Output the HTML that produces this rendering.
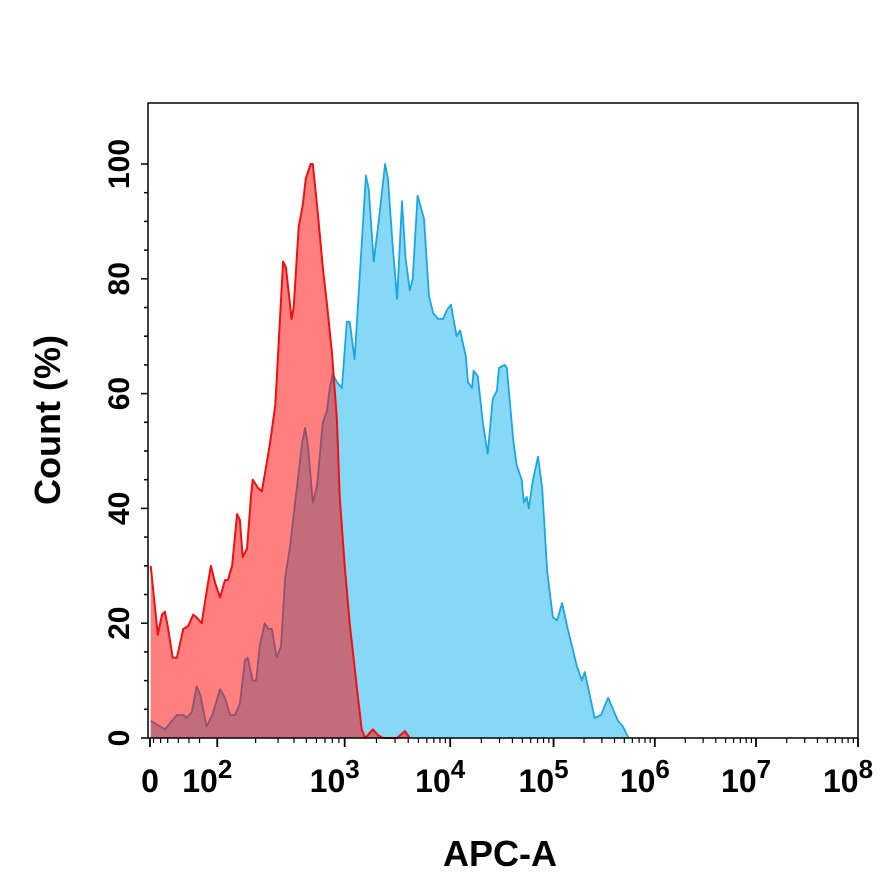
<!DOCTYPE html>
<html><head><meta charset="utf-8"><style>
html,body{margin:0;padding:0;background:#fff;}
svg{display:block;font-family:"Liberation Sans",Arial,sans-serif;font-weight:bold;}
</style></head><body>
<svg id="chart" width="881" height="886" viewBox="0 0 881 886" xmlns="http://www.w3.org/2000/svg">
<g id="series"></g>
<rect x="148" y="103" width="710" height="635" fill="none" stroke="#000" stroke-width="1.5"/>
<g id="axes"></g>
<text transform="translate(60,420) rotate(-90)" text-anchor="middle" font-size="36">Count  (%)</text>
<text x="500" y="866" text-anchor="middle" font-size="36">APC-A</text>
</svg>
<script>
const redCh=[1,11,17,21,25,32,38,47,54,61,66,73,80,86,92,99,106,110,116,123,127,131,137,143,145,153,158,165,169,177,184,188,192,200,203,210,216,220,227,230,237,244,250,257,264,268,275,282,292,299,304,311,315,322,329,339,349,360,367];
const redCount=[30,18,21.5,22,19.5,14,14,19,19.5,21.5,21,20,25.5,30,27,24.5,27.5,27.5,30,39,38,31.5,33,42.5,45,43.5,43,48,51,58,74,83,82,73,75,89,93,97.5,100,100,91.5,82,75.5,67,55.5,42,30,20,9,1.5,0,1,1.5,0.5,0,0,0,1.2,0];
const blueCh=[1,21,31,38,47,52,59,66,71,80,88,99,106,113,120,127,134,138,145,150,155,162,167,172,179,185,191,198,205,215,219,223,230,236,244,250,254,258,264,271,278,282,289,297,305,309,316,323,332,336,343,349,356,361,367,371,378,387,394,400,407,414,419,425,433,438,446,449,455,457,463,470,477,484,490,493,501,504,513,518,525,528,532,535,541,548,554,561,569,575,582,590,596,603,610,614,621,628,637,647,654,661,668,676];
const blueCount=[3,1.5,3,4,4,3.5,4.5,9,7.5,2,4,8.5,7,4,4,6,13.5,14,10,10,16,20,19,19,14,16,28,33.5,41,51.5,54,51,41,44,55,57,61,63.5,62,61,72.5,72.5,66,82,98,95.5,83,90,100,97.5,85.5,76.5,93.5,83.5,78,80,94.5,90.5,77,74,73,73,74.5,75.5,70,71,66.5,62,61,64,63,55,49.5,59,60.5,64.5,65,64.5,52,47.5,45,41,42,40,45,49,43.5,29,21,20.5,23.5,19,16,12.5,10,11.5,7.5,3.5,4,7,5,3,2,0];
const xTickCh=[0,95,275,424,570,713,856,1000];
const xTickExp=[null,2,3,4,5,6,7,8];
const yTicks=[0,20,40,60,80,100];

const NS="http://www.w3.org/2000/svg";
function xs(ch){return 150+ch*0.708;}
function ys(v){return 738-v*5.74;}
function mk(tag,attrs,parent){const e=document.createElementNS(NS,tag);for(const k in attrs)e.setAttribute(k,attrs[k]);parent.appendChild(e);return e;}
const series=document.getElementById('series');
function area(chs,vals){
  let d='M'+xs(chs[0])+','+ys(0);
  for(let i=0;i<chs.length;i++)d+=' L'+xs(chs[i]).toFixed(1)+','+ys(vals[i]).toFixed(1);
  d+=' L'+xs(chs[chs.length-1])+','+ys(0)+' Z';
  let l='M'+xs(chs[0]).toFixed(1)+','+ys(vals[0]).toFixed(1);
  for(let i=1;i<chs.length;i++)l+=' L'+xs(chs[i]).toFixed(1)+','+ys(vals[i]).toFixed(1);
  return [d,l];
}
const b=area(blueCh,blueCount);
const bf=mk('path',{d:b[0],fill:'#87d8f7',stroke:'none'},series);


const bl=mk('path',{d:b[1],fill:'none',stroke:'#1aa7e0','stroke-width':1.8,'stroke-linejoin':'round'},series);


const r=area(redCh,redCount);
const rf=mk('path',{d:r[0],fill:'rgba(255,0,0,0.5)',stroke:'none'},series);


const rl=mk('path',{d:r[1],fill:'none',stroke:'#ee1111','stroke-width':2,'stroke-linejoin':'round'},series);



const axes=document.getElementById('axes');
// y ticks
for(let v=0;v<=100;v+=5){
  const major=v%20===0;
  const t=mk('line',{x1:148,x2:major?141:144,y1:ys(v),y2:ys(v),stroke:'#000','stroke-width':1.5},axes);
  
  
}
yTicks.forEach(v=>{
  const t=mk('text',{transform:'translate(129,'+ys(v)+') rotate(-90)','text-anchor':'middle','font-size':30},axes);
  t.textContent=String(v);
  
  
});
// x ticks
xTickCh.forEach((c,i)=>{
  const t=mk('line',{x1:xs(c),x2:xs(c),y1:738,y2:747,stroke:'#000','stroke-width':1.8},axes);
  
  
  if(i>=1&&i<xTickCh.length-1){
    const c0=c,c1=xTickCh[i+1];
    for(let k=2;k<=9;k++){
      const mc=c0+(c1-c0)*Math.log10(k);
      const m=mk('line',{x1:xs(mc),x2:xs(mc),y1:738,y2:743,stroke:'#000','stroke-width':1.2},axes);
      
      
    }
  }
  const tx=mk('text',{x:xs(c),y:792,'text-anchor':'middle','font-size':32},axes);
  if(xTickExp[i]===null){tx.textContent='0';}
  else{
    tx.setAttribute('x',xs(c)-10);
    tx.textContent='10';
    const s=mk('tspan',{dy:-14,'font-size':26},tx);
    s.textContent=String(xTickExp[i]);
  }
  
  
});
// minor ticks near zero
[5,15,25,40,55,70].forEach(c=>{
  const m=mk('line',{x1:xs(c),x2:xs(c),y1:738,y2:743,stroke:'#000','stroke-width':1.2},axes);
  
  
});
</script>
</body></html>
